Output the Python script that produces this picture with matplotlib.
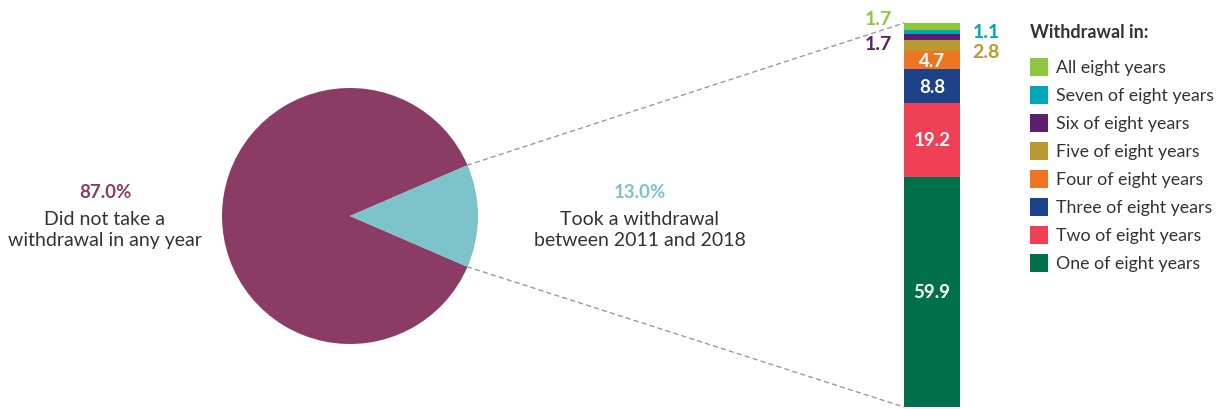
import matplotlib.pyplot as plt
import numpy as np
from matplotlib.patches import ConnectionPatch, Rectangle

plt.rcParams["font.family"] = ["Lato", "DejaVu Sans"]

# --- Data ---
pie_labels = ["Did not take a\nwithdrawal in any year", "Took a withdrawal\nbetween 2011 and 2018"]
pie_values = [87.0, 13.0]
pie_colors = ["#8a3c64", "#7cc4ca"]

# stacked bar, bottom to top
bar_labels = ["One of eight years", "Two of eight years", "Three of eight years",
              "Four of eight years", "Five of eight years", "Six of eight years",
              "Seven of eight years", "All eight years"]
bar_values = [59.9, 19.2, 8.8, 4.7, 2.8, 1.7, 1.1, 1.7]
bar_colors = ["#00704a", "#ef4056", "#1d4289", "#ee7623", "#b89a30", "#5b1f6e",
              "#00a7b5", "#8dc63f"]

TEXT = "#333333"
W, H = 1219, 410

fig = plt.figure(figsize=(W / 100, H / 100), dpi=100)

# background axes in pixel coordinates for free text / legend
bg = fig.add_axes([0, 0, 1, 1])
bg.set_xlim(0, W)
bg.set_ylim(H, 0)
bg.axis("off")

# --- Pie ---
r = 128
cx, cy = 350, 217
ax_pie = fig.add_axes([(cx - r) / W, (H - cy - r) / H, 2 * r / W, 2 * r / H])
start = 360 * pie_values[1] / 100 / 2
wedges, _ = ax_pie.pie(pie_values, colors=pie_colors, startangle=start, counterclock=True,
                       wedgeprops=dict(linewidth=0))
ax_pie.set_xlim(-1, 1)
ax_pie.set_ylim(-1, 1)
ax_pie.set_aspect("equal")
ax_pie.axis("off")

# --- Stacked bar ---
bx0, bx1, by0, by1 = 904, 960, 24, 408
ax_bar = fig.add_axes([bx0 / W, (H - by1) / H, (bx1 - bx0) / W, (by1 - by0) / H])
total = sum(bar_values)
bottoms = np.concatenate([[0], np.cumsum(bar_values)[:-1]])
ax_bar.bar([0] * len(bar_values), bar_values, bottom=bottoms, width=1, color=bar_colors,
           linewidth=0)
ax_bar.set_xlim(-0.5, 0.5)
ax_bar.set_ylim(0, total)
ax_bar.axis("off")

for i, (v, b) in enumerate(zip(bar_values, bottoms)):
    if v >= 4:
        ax_bar.text(0, b + v / 2, f"{v:.1f}", ha="center", va="center", color="white",
                    fontsize=13.5, fontweight="bold")

# small segments labelled outside (x offset, alignment, vertical nudge)
outside = {5: (-0.72, "right", -1.8), 7: (-0.72, "right", 2.0), 6: (0.72, "left", 0.1),
           4: (0.72, "left", -1.6)}
for i, (xo, ha, dy) in outside.items():
    ax_bar.text(xo, bottoms[i] + bar_values[i] / 2 + dy, f"{bar_values[i]:.1f}", ha=ha,
                va="center", color=bar_colors[i], fontsize=14, fontweight="bold",
                clip_on=False)

# --- Connector lines ---
t1, t2 = np.deg2rad(wedges[1].theta1), np.deg2rad(wedges[1].theta2)
for theta, ybar in [(t2, total), (t1, 0)]:
    con = ConnectionPatch(xyA=(np.cos(theta), np.sin(theta)), coordsA=ax_pie.transData,
                          xyB=(-0.5, ybar), coordsB=ax_bar.transData,
                          color="#9a9a9a", linestyle=(0, (3, 3)), linewidth=1)
    fig.add_artist(con)

# --- Pie labels ---
for x, pct, lab, col in [(105, pie_values[0], pie_labels[0], pie_colors[0]),
                         (640, pie_values[1], pie_labels[1], pie_colors[1])]:
    bg.text(x, 193, f"{pct:.1f}%", ha="center", va="center", color=col, fontsize=13.5,
            fontweight="bold")
    bg.text(x, 230, lab, ha="center", va="center", color=TEXT, fontsize=14,
            linespacing=1.32)

# --- Legend ---
bg.text(1030, 33, "Withdrawal in:", ha="left", va="center", color=TEXT, fontsize=13,
        fontweight="bold")
for k, (lab, col) in enumerate(zip(bar_labels[::-1], bar_colors[::-1])):
    y = 68 + k * 28
    bg.add_patch(Rectangle((1030, y - 9), 18, 18, color=col, linewidth=0))
    bg.text(1056, y, lab, ha="left", va="center", color=TEXT, fontsize=12.8)

fig.savefig("out.png", dpi=100)
